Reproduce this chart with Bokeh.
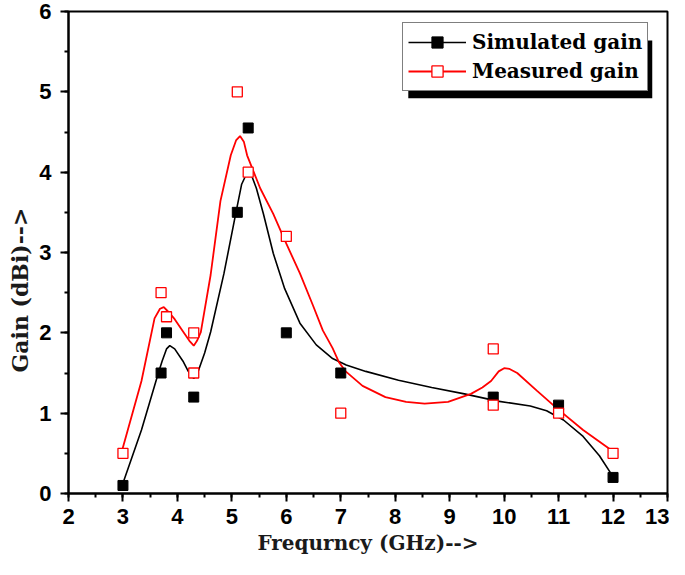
from bokeh.plotting import figure
from bokeh.models import Range1d, SingleIntervalTicker, Legend, LegendItem, BoxAnnotation, Title
from bokeh.embed import file_html
from bokeh.resources import INLINE

# Measured data points
sim_freq = [3.0, 3.7, 3.8, 4.3, 5.1, 5.3, 6.0, 7.0, 9.8, 11.0, 12.0]
sim_gain = [0.1, 1.5, 2.0, 1.2, 3.5, 4.55, 2.0, 1.5, 1.2, 1.1, 0.2]

meas_freq = [3.0, 3.7, 3.8, 4.3, 4.3, 5.1, 5.3, 6.0, 7.0, 9.8, 9.8, 11.0, 12.0]
meas_gain = [0.5, 2.5, 2.2, 2.0, 1.5, 5.0, 4.0, 3.2, 1.0, 1.8, 1.1, 1.0, 0.5]

# Smoothed fit curves
sim_fit_x = [2.99, 3.34, 3.65, 3.72, 3.80, 3.86, 3.95, 4.10, 4.20, 4.30, 4.38, 4.50, 4.61,
             4.855, 5.07, 5.18, 5.27, 5.35, 5.45, 5.58, 5.76, 5.97, 6.25, 6.55, 6.85, 7.10,
             7.46, 8.06, 8.67, 9.27, 9.88, 10.48, 10.78, 11.09, 11.45, 11.75, 11.99]
sim_fit_y = [0.11, 0.79, 1.50, 1.65, 1.80, 1.84, 1.80, 1.65, 1.52, 1.43, 1.52, 1.75, 2.01,
             2.74, 3.48, 3.85, 3.98, 3.98, 3.80, 3.48, 2.99, 2.55, 2.12, 1.85, 1.68, 1.60,
             1.52, 1.41, 1.32, 1.24, 1.15, 1.09, 1.03, 0.915, 0.71, 0.47, 0.22]

meas_fit_x = [2.99, 3.34, 3.58, 3.68, 3.75, 3.85, 3.95, 4.10, 4.22, 4.30, 4.36, 4.43, 4.61,
              4.79, 4.98, 5.08, 5.15, 5.22, 5.28, 5.52, 5.76, 6.00, 6.25, 6.49, 6.67, 6.85,
              6.97, 7.09, 7.40, 7.82, 8.20, 8.54, 8.97, 9.39, 9.60, 9.76, 9.90, 10.00, 10.10,
              10.24, 10.60, 10.97, 11.45, 11.99]
meas_fit_y = [0.55, 1.40, 2.18, 2.30, 2.32, 2.25, 2.17, 2.02, 1.90, 1.84, 1.90, 2.01, 2.72,
              3.64, 4.21, 4.40, 4.45, 4.38, 4.21, 3.80, 3.48, 3.11, 2.74, 2.34, 2.03, 1.81,
              1.63, 1.52, 1.34, 1.20, 1.14, 1.12, 1.14, 1.24, 1.32, 1.40, 1.52, 1.56, 1.55,
              1.50, 1.28, 1.06, 0.79, 0.53]

x_label = "Frequrncy (GHz)-->"
y_label = "Gain (dBi)-->"
series_names = ["Simulated gain", "Measured gain"]

p = figure(width=669, height=559, output_backend="svg", toolbar_location=None,
           x_range=Range1d(2, 13), y_range=Range1d(0, 6),
           min_border_left=66, min_border_right=2, min_border_top=11, min_border_bottom=66)
p.background_fill_color = "white"
p.border_fill_color = "white"
p.xgrid.visible = False
p.ygrid.visible = False
p.outline_line_color = "black"
p.outline_line_width = 2

p.xaxis.ticker = SingleIntervalTicker(interval=1, num_minor_ticks=2)
p.yaxis.ticker = SingleIntervalTicker(interval=1, num_minor_ticks=2)
for ax in (p.xaxis[0], p.yaxis[0]):
    ax.axis_line_width = 2
    ax.major_tick_line_width = 2
    ax.minor_tick_line_width = 2
    ax.major_tick_out = 8
    ax.major_tick_in = 0
    ax.minor_tick_out = 4
    ax.minor_tick_in = 0
    ax.major_label_text_font = "Liberation Sans"
    ax.major_label_text_font_style = "bold"
    ax.major_label_text_font_size = "22px"
    ax.major_label_text_color = "black"
p.xaxis.axis_label = x_label
p.xaxis.axis_label_text_font = "DejaVu Serif"
p.xaxis.axis_label_text_font_style = "bold"
p.xaxis.axis_label_text_font_size = "20px"
p.xaxis.axis_label_text_color = "#1a1a1a"
p.xaxis.major_label_standoff = 7
p.yaxis.major_label_standoff = 9
p.xaxis.axis_label_standoff = 4

ytitle = Title(text=y_label, align="left", offset=121,
               text_font="DejaVu Serif", text_font_style="bold",
               text_font_size="22px", text_color="#1a1a1a", standoff=8)
p.add_layout(ytitle, "left")

# fitted curves
l1 = p.line(sim_fit_x, sim_fit_y, line_color="black", line_width=1.6)
l2 = p.line(meas_fit_x, meas_fit_y, line_color="red", line_width=1.8)
s1 = p.scatter(sim_freq, sim_gain, marker="square", size=10, fill_color="black", line_color="black")
s2 = p.scatter(meas_freq, meas_gain, marker="square", size=10, fill_color="white",
               line_color="red", line_width=1.3)

# legend shadow
shadow = BoxAnnotation(left=8.24, right=12.72, bottom=4.92, top=5.64,
                       fill_color="black", fill_alpha=1.0, line_color=None, level="overlay")
p.add_layout(shadow)

legend = Legend(items=[LegendItem(label=series_names[0], renderers=[l1, s1]),
                       LegendItem(label=series_names[1], renderers=[l2, s2])],
                location=(334, 402), orientation="vertical")
legend.border_line_color = "black"
legend.border_line_width = 1
legend.background_fill_color = "white"
legend.background_fill_alpha = 1.0
legend.label_text_font = "DejaVu Serif"
legend.label_text_font_style = "bold"
legend.label_text_font_size = "20px"
legend.label_text_color = "black"
legend.glyph_width = 58
legend.glyph_height = 28
legend.label_height = 28
legend.label_standoff = 6
legend.padding = 5
legend.spacing = 1
legend.margin = 0
p.add_layout(legend, "center")

open("out.html", "w").write(file_html(p, INLINE))
